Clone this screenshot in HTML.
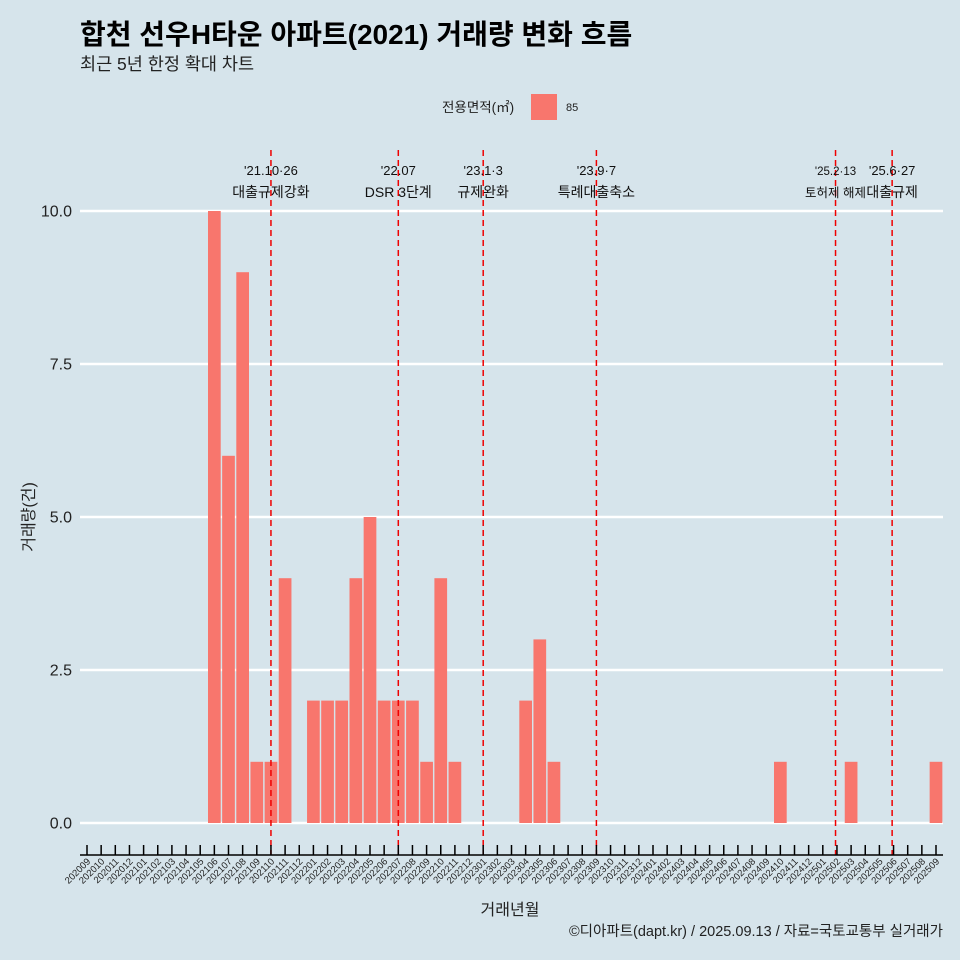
<!DOCTYPE html>
<html><head><meta charset="utf-8"><style>
body{margin:0;background:#d6e4eb;}
svg{display:block;font-family:"Liberation Sans","Noto Sans CJK KR",sans-serif;}
</style></head><body>
<svg id="c" width="960" height="960" viewBox="0 0 960 960">
<rect width="960" height="960" fill="#d6e4eb"/>
<text x="80" y="44" font-size="28" font-weight="bold" fill="#000">합천 선우H타운 아파트(2021) 거래량 변화 흐름</text>
<text x="80" y="70" font-size="17.5" fill="#222">최근 5년 한정 확대 차트</text>
<g>
<text x="442" y="112" font-size="13.5" fill="#222">전용면적(㎡)</text>
<rect x="531" y="94" width="26" height="26" fill="#f8766d"/>
<text x="566" y="111" font-size="11" fill="#222">85</text>
</g>
<g id="grid"></g><g id="bars"></g><g id="vl"></g><g id="xa"></g><g id="ya"></g>
<text x="510" y="915" font-size="16" text-anchor="middle" fill="#222">거래년월</text>
<text transform="translate(34,517) rotate(-90)" font-size="16" text-anchor="middle" fill="#222">거래량(건)</text>
<text x="943" y="936" font-size="14.5" text-anchor="end" fill="#222">©디아파트(dapt.kr) / 2025.09.13 / 자료=국토교통부 실거래가</text>
</svg>
<script>
const months=[];for(let y=2020,m=9;months.length<61;){months.push(y+String(m).padStart(2,'0'));m++;if(m>12){m=1;y++;}}
const barMonths=['202106','202107','202108','202109','202110','202111','202201','202202','202203','202204','202205','202206','202207','202208','202209','202210','202211','202304','202305','202306','202410','202503','202509'];
const barValues=[10,6,9,1,1,4,2,2,2,4,5,2,2,2,1,4,1,2,3,1,1,1,1];
const yTicks=[0,2.5,5,7.5,10];
const yTickLabels=['0.0','2.5','5.0','7.5','10.0'];
const eventPos=[13,22,28,36,52.9,56.9];
const eventDate=["'21.10·26","'22.07","'23.1·3","'23.9·7","'25.2·13","'25.6·27"];
const eventText=["대출규제강화","DSR 3단계","규제완화","특례대출축소","토허제 해제","대출규제"];
const NS='http://www.w3.org/2000/svg';
const X=i=>87+i*14.15, Y=v=>823-v*61.2, bw=12.7;
function mk(p,t,a){const e=document.createElementNS(NS,t);for(const k in a)e.setAttribute(k,a[k]);document.getElementById(p).appendChild(e);return e;}
yTicks.forEach((v,i)=>{
 const l=mk('grid','line',{x1:80,x2:943,y1:Y(v),y2:Y(v),stroke:'#fff','stroke-width':2.5});
 
 
 const t=mk('ya','text',{x:72,y:Y(v)+5.5,'font-size':16,'text-anchor':'end',fill:'#222'});t.textContent=yTickLabels[i];
 
 
});
barMonths.forEach((m,i)=>{
 const idx=months.indexOf(m);
 const r=mk('bars','rect',{x:X(idx)-bw/2,y:Y(barValues[i]),width:bw,height:Y(0)-Y(barValues[i]),fill:'#f8766d'});
 
 
});
eventPos.forEach((p,i)=>{
 const x=X(p);
 const l=mk('vl','line',{x1:x,x2:x,y1:150,y2:855,stroke:'#e00','stroke-width':1.5,'stroke-dasharray':'6,4'});
 
 
 const small=i==4;
 const a=mk('vl','text',{x:x,y:175,'font-size':small?11.5:13,'text-anchor':'middle',fill:'#111'});a.textContent=eventDate[i];
 
 
 const b=mk('vl','text',{x:x,y:197,'font-size':small?12.5:14,'text-anchor':'middle',fill:'#111'});b.textContent=eventText[i];
 
 
});
const ax=mk('xa','line',{x1:80,x2:943,y1:855,y2:855,stroke:'#000','stroke-width':1.5});


months.forEach((m,i)=>{
 const x=X(i);
 const t=mk('xa','line',{x1:x,x2:x,y1:845,y2:855,stroke:'#000','stroke-width':1.5});
 
 
 const s=mk('xa','text',{transform:`translate(${x+4},${862}) rotate(-45)`,'font-size':9.5,'text-anchor':'end',fill:'#222'});s.textContent=m;
 
 
});
</script>
</body></html>
